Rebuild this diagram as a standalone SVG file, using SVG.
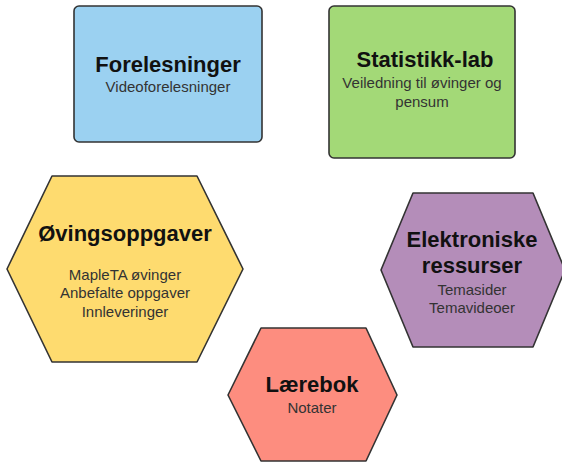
<svg xmlns="http://www.w3.org/2000/svg" width="562" height="463" viewBox="0 0 562 463">
<style>
.shape{stroke:#333;stroke-width:1.6;stroke-linejoin:round}
.t{font-family:"Liberation Sans",Arial,sans-serif;font-weight:bold;font-size:22px;fill:#111;text-anchor:middle}
.s{font-family:"Liberation Sans",Arial,sans-serif;font-size:15px;fill:#333;text-anchor:middle}
</style>
<rect width="562" height="463" fill="#fff"/>
<g id="forelesninger">
<rect class="shape" x="74" y="6" width="188" height="136" rx="5" fill="#9bd1f1"/>
<text class="t" x="168" y="72">Forelesninger</text>
<text class="s" x="168" y="92">Videoforelesninger</text>
</g>
<g id="statistikk-lab">
<rect class="shape" x="329" y="6" width="186" height="152" rx="5" fill="#a3d977"/>
<text class="t" x="425" y="67">Statistikk-lab</text>
<text class="s" x="422" y="88">Veiledning til øvinger og</text>
<text class="s" x="422" y="107">pensum</text>
</g>
<g id="ovingsoppgaver">
<polygon class="shape" points="52,176 197,176 243,269 197,362 52,362 7,269" fill="#fedb6f"/>
<text class="t" x="125" y="241">Øvingsoppgaver</text>
<text class="s" x="125" y="280">MapleTA øvinger</text>
<text class="s" x="125" y="298">Anbefalte oppgaver</text>
<text class="s" x="125" y="317">Innleveringer</text>
</g>
<g id="elektroniske">
<polygon class="shape" points="413,193 533,193 565,270 533,347 413,347 381,270" fill="#b48db9"/>
<text class="t" x="472" y="247">Elektroniske</text>
<text class="t" x="472" y="273">ressurser</text>
<text class="s" x="472" y="295">Temasider</text>
<text class="s" x="472" y="313">Temavideoer</text>
</g>
<g id="laerebok">
<polygon class="shape" points="261,328 366,328 397,395 366,461 261,461 228,395" fill="#fd8d7f"/>
<text class="t" x="312" y="392">Lærebok</text>
<text class="s" x="312" y="413">Notater</text>
</g>
<g id="connectors"></g>
</svg>
